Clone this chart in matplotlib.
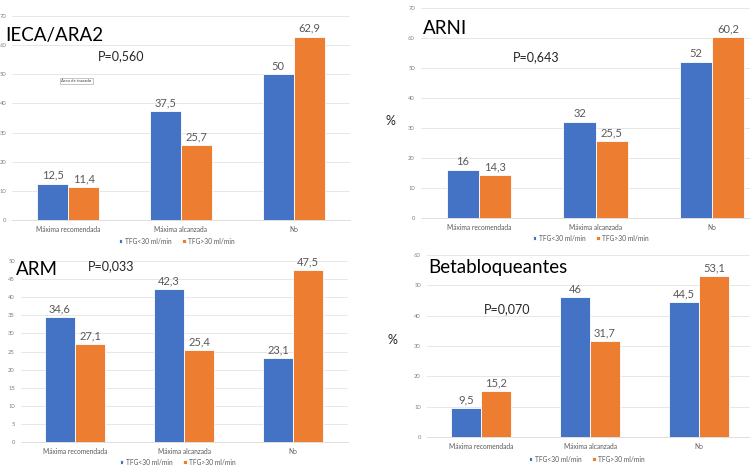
"""Cuatro paneles de barras: dosis de fármacos según TFG (<30 / >30 ml/min)."""

import matplotlib

matplotlib.use("Agg")

import matplotlib.pyplot as plt  # noqa: E402
import numpy as np  # noqa: E402

plt.rcParams["font.family"] = ["Lato", "DejaVu Sans"]

categories = ["Máxima recomendada", "Máxima alcanzada", "No"]
series_names = ["TFG<30 ml/min", "TFG>30 ml/min"]

ieca_lt30 = [12.5, 37.5, 50]
ieca_gt30 = [11.4, 25.7, 62.9]
arni_lt30 = [16, 32, 52]
arni_gt30 = [14.3, 25.5, 60.2]
arm_lt30 = [34.6, 42.3, 23.1]
arm_gt30 = [27.1, 25.4, 47.5]
beta_lt30 = [9.5, 46, 44.5]
beta_gt30 = [15.2, 31.7, 53.1]

titles = ["IECA/ARA2", "ARNI", "ARM", "Betabloqueantes"]
p_values = ["P=0,560", "P=0,643", "P=0,033", "P=0,070"]
y_max = [70, 70, 50, 60]
y_step = [10, 10, 5, 10]

BLUE = "#4472C4"
ORANGE = "#ED7D31"
W, H = 750, 469


def px_rect(left, top, right, bottom):
    """Прямоугольник в пикселях -> координаты фигуры."""
    return [left / W, 1 - bottom / H, (right - left) / W, (bottom - top) / H]


def fig_xy(x, y):
    return x / W, 1 - y / H


def fmt(v):
    return f"{v:g}".replace(".", ",")


def draw_panel(fig, rect, lt30, gt30, ymax, step, legend_xy):
    ax = fig.add_axes(px_rect(*rect))
    x = np.arange(len(categories))
    width = 0.275
    b1 = ax.bar(x - width / 2, lt30, width, color=BLUE, edgecolor="white",
                linewidth=0.6, label=series_names[0], zorder=3)
    b2 = ax.bar(x + width / 2, gt30, width, color=ORANGE, edgecolor="white",
                linewidth=0.6, label=series_names[1], zorder=3)
    for bars in (b1, b2):
        for rect_, v in zip(bars, bars.datavalues):
            ax.annotate(fmt(v), (rect_.get_x() + rect_.get_width() / 2, v),
                        xytext=(0, 2), textcoords="offset points",
                        ha="center", va="bottom", fontsize=8, color="#595959")

    ax.set_xlim(-0.5, len(categories) - 0.5)
    ax.set_ylim(0, ymax)
    ax.set_yticks(np.arange(0, ymax + 1, step))
    ax.set_xticks(x, labels=categories)
    ax.grid(axis="y", color="#e3e3e3", linewidth=0.6, zorder=0)
    for side in ("top", "right", "left"):
        ax.spines[side].set_visible(False)
    ax.spines["bottom"].set_color("#d9d9d9")
    ax.spines["bottom"].set_linewidth(0.6)
    ax.tick_params(axis="y", length=0, labelsize=4.2, labelcolor="#808080", pad=4)
    ax.tick_params(axis="x", length=0, labelsize=4.8, labelcolor="#595959", pad=4)

    ax.legend(loc="center", bbox_to_anchor=fig_xy(*legend_xy),
              bbox_transform=fig.transFigure, ncol=2, frameon=False,
              fontsize=4.8, handlelength=0.5, handleheight=0.5,
              handletextpad=0.4, columnspacing=1.6, labelcolor="#595959")
    return ax


def main():
    fig = plt.figure(figsize=(7.5, 4.69), dpi=100)
    fig.patch.set_facecolor("white")

    rects = [(12, 16, 350, 220), (420.5, 8, 770.5, 218),
             (20.5, 261, 347.5, 442), (426.5, 255, 753.5, 437)]
    legends = [(177, 241), (591, 238), (178, 462), (587, 459)]
    data = [(ieca_lt30, ieca_gt30), (arni_lt30, arni_gt30),
            (arm_lt30, arm_gt30), (beta_lt30, beta_gt30)]

    axes = []
    for i in range(4):
        axes.append(draw_panel(fig, rects[i], data[i][0], data[i][1],
                               y_max[i], y_step[i], legends[i]))

    title_pos = [(5, 35), (423, 29), (16, 269), (428, 267)]
    p_pos = [(98, 56), (513, 57), (88, 266), (484, 309)]
    for i in range(4):
        fig.text(*fig_xy(*title_pos[i]), titles[i], fontsize=13.5,
                 ha="left", va="center", color="black")
        fig.text(*fig_xy(*p_pos[i]), p_values[i], fontsize=9,
                 ha="left", va="center", color="#262626")

    # Подпись оси "%" есть только у правых панелей.
    fig.text(*fig_xy(390, 121), "%", fontsize=9, ha="center", va="center", color="#262626")
    fig.text(*fig_xy(392, 340), "%", fontsize=9, ha="center", va="center", color="#262626")

    # Всплывающая подсказка Excel, попавшая на скриншот.
    fig.text(*fig_xy(61, 81), "Área de trazado", fontsize=3.2, ha="left",
             va="center", color="#404040",
             bbox=dict(boxstyle="square,pad=0.3", facecolor="white",
                       edgecolor="#9a9a9a", linewidth=0.4))

    fig.savefig("out.png", dpi=100, facecolor="white")
    plt.close(fig)


if __name__ == "__main__":
    main()
